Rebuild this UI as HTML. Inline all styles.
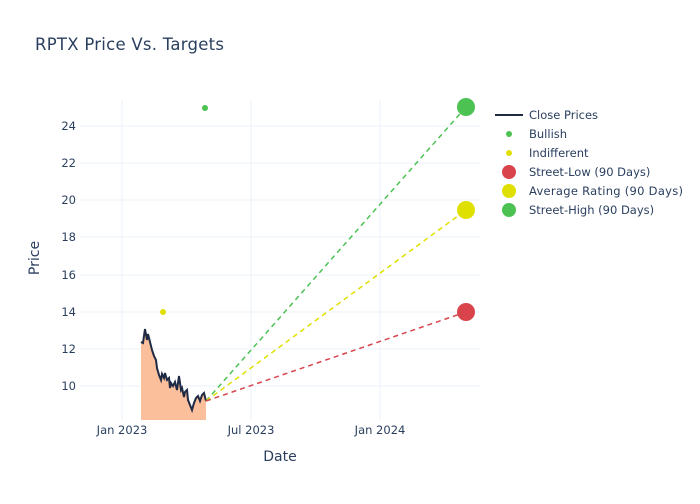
<!DOCTYPE html>
<html><head><meta charset="utf-8"><style>
body{margin:0;background:#fff;font-family:"DejaVu Sans",sans-serif}
</style></head><body>
<svg width="700" height="500" xmlns="http://www.w3.org/2000/svg" font-family="DejaVu Sans, sans-serif">
<rect width="700" height="500" fill="#fff"/>
<text x="35" y="50" font-size="16.5" fill="#2a3f5f" textLength="189">RPTX Price Vs. Targets</text>
<g stroke="#ebf0f8" stroke-width="1">
<line x1="122" y1="100" x2="122" y2="420"/><line x1="251" y1="100" x2="251" y2="420"/><line x1="380" y1="100" x2="380" y2="420"/>
<line x1="80" y1="386" x2="480" y2="386"/><line x1="80" y1="349" x2="480" y2="349"/><line x1="80" y1="312" x2="480" y2="312"/>
<line x1="80" y1="275" x2="480" y2="275"/><line x1="80" y1="237" x2="480" y2="237"/><line x1="80" y1="200" x2="480" y2="200"/>
<line x1="80" y1="163" x2="480" y2="163"/><line x1="80" y1="126" x2="480" y2="126"/>
</g>
<g font-size="11.5" fill="#2a3f5f" text-anchor="end">
<text x="76" y="390">10</text><text x="76" y="353">12</text><text x="76" y="316">14</text><text x="76" y="279">16</text>
<text x="76" y="241">18</text><text x="76" y="204">20</text><text x="76" y="167">22</text><text x="76" y="130">24</text>
</g>
<g font-size="11.5" fill="#2a3f5f" text-anchor="middle">
<text x="122" y="434">Jan 2023</text><text x="251" y="434">Jul 2023</text><text x="380" y="434">Jan 2024</text>
</g>
<text x="280" y="461" font-size="14" fill="#2a3f5f" text-anchor="middle">Date</text>
<text x="39" y="258" font-size="14" fill="#2a3f5f" text-anchor="middle" transform="rotate(-90 39 258)">Price</text>
<polygon fill="#fcbf9c" points="141,420 141,342 143,343 145,329 147,340 148,334 150,342 152,350 154,356 156,360 157,368 159,375 161,380 162,374 164,378 165,373 167,380 169,378 170,388 171,383 173,386 175,382 177,390 179,376 181,390 182,388 184,397 185,392 187,390 188,400 190,405 192,410 194,403 196,398 198,396 200,401 202,395 204,393 206,401 206,420"/>
<polyline fill="none" stroke="#1f2a44" stroke-width="2" points="141,342 143,343 145,329 147,340 148,334 150,342 152,350 154,356 156,360 157,368 159,375 161,380 162,374 164,378 165,373 167,380 169,378 170,388 171,383 173,386 175,382 177,390 179,376 181,390 182,388 184,397 185,392 187,390 188,400 190,405 192,410 194,403 196,398 198,396 200,401 202,395 204,393 206,401"/>
<g stroke-width="1.5" stroke-dasharray="5,4" fill="none">
<line x1="206" y1="401" x2="466" y2="107" stroke="#4cc253"/>
<line x1="206" y1="401" x2="466" y2="210" stroke="#e0e000"/>
<line x1="206" y1="401" x2="466" y2="312" stroke="#d9444c"/>
</g>
<circle cx="205" cy="108" r="3" fill="#4cc253"/>
<circle cx="163" cy="312" r="3" fill="#e0e000"/>
<circle cx="466" cy="312" r="9" fill="#d9444c"/>
<circle cx="466" cy="210" r="9" fill="#e0e000"/>
<circle cx="466" cy="107" r="9" fill="#4cc253"/>
<g font-size="11.5" fill="#2a3f5f">
<line x1="495" y1="115" x2="523" y2="115" stroke="#1f2a44" stroke-width="2"/><text x="529" y="119">Close Prices</text>
<circle cx="509" cy="134" r="3" fill="#4cc253"/><text x="529" y="138">Bullish</text>
<circle cx="509" cy="153" r="3" fill="#e0e000"/><text x="529" y="157">Indifferent</text>
<circle cx="509" cy="172" r="7" fill="#d9444c"/><text x="529" y="176">Street-Low (90 Days)</text>
<circle cx="509" cy="191" r="7" fill="#e0e000"/><text x="529" y="195" textLength="154">Average Rating (90 Days)</text>
<circle cx="509" cy="210" r="7" fill="#4cc253"/><text x="529" y="214">Street-High (90 Days)</text>
</g>
</svg>
</body></html>
